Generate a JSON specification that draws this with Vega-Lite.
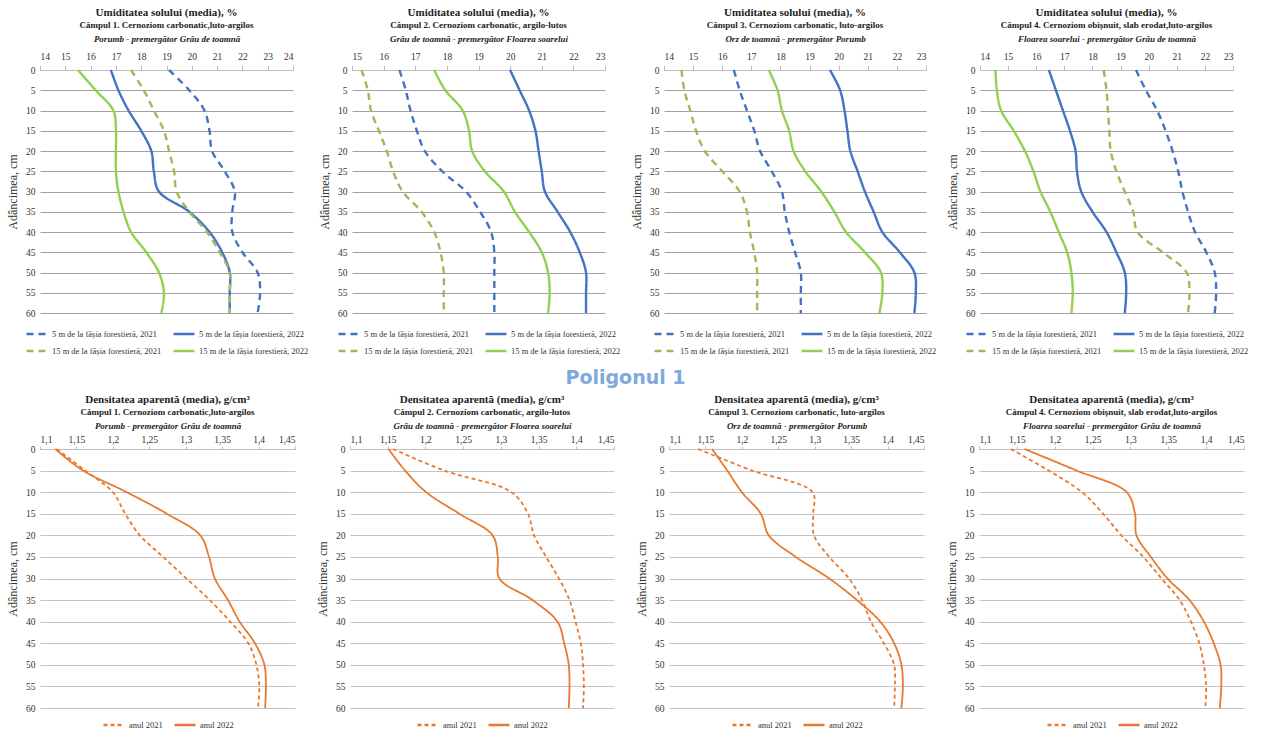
{
"$schema":"https://vega.github.io/schema/vega-lite/v6.json",
"padding":{"left":6,"right":2,"top":7,"bottom":0},
"datasets":{
"umiditate":[
{"camp":1,"serie":"5 m de la fâșia forestieră, 2021","adancime":0,"valoare":19.1},{"camp":1,"serie":"5 m de la fâșia forestieră, 2021","adancime":5,"valoare":19.9},{"camp":1,"serie":"5 m de la fâșia forestieră, 2021","adancime":10,"valoare":20.5},{"camp":1,"serie":"5 m de la fâșia forestieră, 2021","adancime":15,"valoare":20.7},{"camp":1,"serie":"5 m de la fâșia forestieră, 2021","adancime":20,"valoare":20.8},{"camp":1,"serie":"5 m de la fâșia forestieră, 2021","adancime":25,"valoare":21.3},{"camp":1,"serie":"5 m de la fâșia forestieră, 2021","adancime":30,"valoare":21.7},{"camp":1,"serie":"5 m de la fâșia forestieră, 2021","adancime":35,"valoare":21.6},{"camp":1,"serie":"5 m de la fâșia forestieră, 2021","adancime":40,"valoare":21.6},{"camp":1,"serie":"5 m de la fâșia forestieră, 2021","adancime":45,"valoare":22.0},{"camp":1,"serie":"5 m de la fâșia forestieră, 2021","adancime":50,"valoare":22.6},{"camp":1,"serie":"5 m de la fâșia forestieră, 2021","adancime":55,"valoare":22.7},{"camp":1,"serie":"5 m de la fâșia forestieră, 2021","adancime":60,"valoare":22.6},
{"camp":1,"serie":"5 m de la fâșia forestieră, 2022","adancime":0,"valoare":16.8},{"camp":1,"serie":"5 m de la fâșia forestieră, 2022","adancime":5,"valoare":17.1},{"camp":1,"serie":"5 m de la fâșia forestieră, 2022","adancime":10,"valoare":17.5},{"camp":1,"serie":"5 m de la fâșia forestieră, 2022","adancime":15,"valoare":18.0},{"camp":1,"serie":"5 m de la fâșia forestieră, 2022","adancime":20,"valoare":18.4},{"camp":1,"serie":"5 m de la fâșia forestieră, 2022","adancime":25,"valoare":18.5},{"camp":1,"serie":"5 m de la fâșia forestieră, 2022","adancime":30,"valoare":18.7},{"camp":1,"serie":"5 m de la fâșia forestieră, 2022","adancime":35,"valoare":19.9},{"camp":1,"serie":"5 m de la fâșia forestieră, 2022","adancime":40,"valoare":20.7},{"camp":1,"serie":"5 m de la fâșia forestieră, 2022","adancime":45,"valoare":21.2},{"camp":1,"serie":"5 m de la fâșia forestieră, 2022","adancime":50,"valoare":21.5},{"camp":1,"serie":"5 m de la fâșia forestieră, 2022","adancime":55,"valoare":21.5},{"camp":1,"serie":"5 m de la fâșia forestieră, 2022","adancime":60,"valoare":21.5},
{"camp":1,"serie":"15 m de la fâșia forestieră, 2021","adancime":0,"valoare":17.6},{"camp":1,"serie":"15 m de la fâșia forestieră, 2021","adancime":5,"valoare":18.1},{"camp":1,"serie":"15 m de la fâșia forestieră, 2021","adancime":10,"valoare":18.5},{"camp":1,"serie":"15 m de la fâșia forestieră, 2021","adancime":15,"valoare":18.9},{"camp":1,"serie":"15 m de la fâșia forestieră, 2021","adancime":20,"valoare":19.1},{"camp":1,"serie":"15 m de la fâșia forestieră, 2021","adancime":25,"valoare":19.3},{"camp":1,"serie":"15 m de la fâșia forestieră, 2021","adancime":30,"valoare":19.4},{"camp":1,"serie":"15 m de la fâșia forestieră, 2021","adancime":35,"valoare":19.9},{"camp":1,"serie":"15 m de la fâșia forestieră, 2021","adancime":40,"valoare":20.6},{"camp":1,"serie":"15 m de la fâșia forestieră, 2021","adancime":45,"valoare":21.1},{"camp":1,"serie":"15 m de la fâșia forestieră, 2021","adancime":50,"valoare":21.5},{"camp":1,"serie":"15 m de la fâșia forestieră, 2021","adancime":55,"valoare":21.5},{"camp":1,"serie":"15 m de la fâșia forestieră, 2021","adancime":60,"valoare":21.5},
{"camp":1,"serie":"15 m de la fâșia forestieră, 2022","adancime":0,"valoare":15.5},{"camp":1,"serie":"15 m de la fâșia forestieră, 2022","adancime":5,"valoare":16.2},{"camp":1,"serie":"15 m de la fâșia forestieră, 2022","adancime":10,"valoare":16.9},{"camp":1,"serie":"15 m de la fâșia forestieră, 2022","adancime":15,"valoare":17.0},{"camp":1,"serie":"15 m de la fâșia forestieră, 2022","adancime":20,"valoare":17.0},{"camp":1,"serie":"15 m de la fâșia forestieră, 2022","adancime":25,"valoare":17.0},{"camp":1,"serie":"15 m de la fâșia forestieră, 2022","adancime":30,"valoare":17.1},{"camp":1,"serie":"15 m de la fâșia forestieră, 2022","adancime":35,"valoare":17.3},{"camp":1,"serie":"15 m de la fâșia forestieră, 2022","adancime":40,"valoare":17.6},{"camp":1,"serie":"15 m de la fâșia forestieră, 2022","adancime":45,"valoare":18.2},{"camp":1,"serie":"15 m de la fâșia forestieră, 2022","adancime":50,"valoare":18.7},{"camp":1,"serie":"15 m de la fâșia forestieră, 2022","adancime":55,"valoare":18.9},{"camp":1,"serie":"15 m de la fâșia forestieră, 2022","adancime":60,"valoare":18.8},
{"camp":2,"serie":"5 m de la fâșia forestieră, 2021","adancime":0,"valoare":16.5},{"camp":2,"serie":"5 m de la fâșia forestieră, 2021","adancime":5,"valoare":16.7},{"camp":2,"serie":"5 m de la fâșia forestieră, 2021","adancime":10,"valoare":16.85},{"camp":2,"serie":"5 m de la fâșia forestieră, 2021","adancime":15,"valoare":17.05},{"camp":2,"serie":"5 m de la fâșia forestieră, 2021","adancime":20,"valoare":17.3},{"camp":2,"serie":"5 m de la fâșia forestieră, 2021","adancime":25,"valoare":17.85},{"camp":2,"serie":"5 m de la fâșia forestieră, 2021","adancime":30,"valoare":18.6},{"camp":2,"serie":"5 m de la fâșia forestieră, 2021","adancime":35,"valoare":19.05},{"camp":2,"serie":"5 m de la fâșia forestieră, 2021","adancime":40,"valoare":19.4},{"camp":2,"serie":"5 m de la fâșia forestieră, 2021","adancime":45,"valoare":19.5},{"camp":2,"serie":"5 m de la fâșia forestieră, 2021","adancime":50,"valoare":19.5},{"camp":2,"serie":"5 m de la fâșia forestieră, 2021","adancime":55,"valoare":19.5},{"camp":2,"serie":"5 m de la fâșia forestieră, 2021","adancime":60,"valoare":19.5},
{"camp":2,"serie":"5 m de la fâșia forestieră, 2022","adancime":0,"valoare":20.0},{"camp":2,"serie":"5 m de la fâșia forestieră, 2022","adancime":5,"valoare":20.3},{"camp":2,"serie":"5 m de la fâșia forestieră, 2022","adancime":10,"valoare":20.6},{"camp":2,"serie":"5 m de la fâșia forestieră, 2022","adancime":15,"valoare":20.8},{"camp":2,"serie":"5 m de la fâșia forestieră, 2022","adancime":20,"valoare":20.9},{"camp":2,"serie":"5 m de la fâșia forestieră, 2022","adancime":25,"valoare":21.0},{"camp":2,"serie":"5 m de la fâșia forestieră, 2022","adancime":30,"valoare":21.1},{"camp":2,"serie":"5 m de la fâșia forestieră, 2022","adancime":35,"valoare":21.5},{"camp":2,"serie":"5 m de la fâșia forestieră, 2022","adancime":40,"valoare":21.9},{"camp":2,"serie":"5 m de la fâșia forestieră, 2022","adancime":45,"valoare":22.2},{"camp":2,"serie":"5 m de la fâșia forestieră, 2022","adancime":50,"valoare":22.4},{"camp":2,"serie":"5 m de la fâșia forestieră, 2022","adancime":55,"valoare":22.4},{"camp":2,"serie":"5 m de la fâșia forestieră, 2022","adancime":60,"valoare":22.4},
{"camp":2,"serie":"15 m de la fâșia forestieră, 2021","adancime":0,"valoare":15.3},{"camp":2,"serie":"15 m de la fâșia forestieră, 2021","adancime":5,"valoare":15.5},{"camp":2,"serie":"15 m de la fâșia forestieră, 2021","adancime":10,"valoare":15.6},{"camp":2,"serie":"15 m de la fâșia forestieră, 2021","adancime":15,"valoare":15.85},{"camp":2,"serie":"15 m de la fâșia forestieră, 2021","adancime":20,"valoare":16.1},{"camp":2,"serie":"15 m de la fâșia forestieră, 2021","adancime":25,"valoare":16.3},{"camp":2,"serie":"15 m de la fâșia forestieră, 2021","adancime":30,"valoare":16.6},{"camp":2,"serie":"15 m de la fâșia forestieră, 2021","adancime":35,"valoare":17.2},{"camp":2,"serie":"15 m de la fâșia forestieră, 2021","adancime":40,"valoare":17.6},{"camp":2,"serie":"15 m de la fâșia forestieră, 2021","adancime":45,"valoare":17.8},{"camp":2,"serie":"15 m de la fâșia forestieră, 2021","adancime":50,"valoare":17.9},{"camp":2,"serie":"15 m de la fâșia forestieră, 2021","adancime":55,"valoare":17.9},{"camp":2,"serie":"15 m de la fâșia forestieră, 2021","adancime":60,"valoare":17.9},
{"camp":2,"serie":"15 m de la fâșia forestieră, 2022","adancime":0,"valoare":17.6},{"camp":2,"serie":"15 m de la fâșia forestieră, 2022","adancime":5,"valoare":17.95},{"camp":2,"serie":"15 m de la fâșia forestieră, 2022","adancime":10,"valoare":18.5},{"camp":2,"serie":"15 m de la fâșia forestieră, 2022","adancime":15,"valoare":18.7},{"camp":2,"serie":"15 m de la fâșia forestieră, 2022","adancime":20,"valoare":18.8},{"camp":2,"serie":"15 m de la fâșia forestieră, 2022","adancime":25,"valoare":19.2},{"camp":2,"serie":"15 m de la fâșia forestieră, 2022","adancime":30,"valoare":19.8},{"camp":2,"serie":"15 m de la fâșia forestieră, 2022","adancime":35,"valoare":20.15},{"camp":2,"serie":"15 m de la fâșia forestieră, 2022","adancime":40,"valoare":20.6},{"camp":2,"serie":"15 m de la fâșia forestieră, 2022","adancime":45,"valoare":21.0},{"camp":2,"serie":"15 m de la fâșia forestieră, 2022","adancime":50,"valoare":21.2},{"camp":2,"serie":"15 m de la fâșia forestieră, 2022","adancime":55,"valoare":21.25},{"camp":2,"serie":"15 m de la fâșia forestieră, 2022","adancime":60,"valoare":21.2},
{"camp":3,"serie":"5 m de la fâșia forestieră, 2021","adancime":0,"valoare":16.4},{"camp":3,"serie":"5 m de la fâșia forestieră, 2021","adancime":5,"valoare":16.6},{"camp":3,"serie":"5 m de la fâșia forestieră, 2021","adancime":10,"valoare":16.85},{"camp":3,"serie":"5 m de la fâșia forestieră, 2021","adancime":15,"valoare":17.1},{"camp":3,"serie":"5 m de la fâșia forestieră, 2021","adancime":20,"valoare":17.3},{"camp":3,"serie":"5 m de la fâșia forestieră, 2021","adancime":25,"valoare":17.7},{"camp":3,"serie":"5 m de la fâșia forestieră, 2021","adancime":30,"valoare":18.05},{"camp":3,"serie":"5 m de la fâșia forestieră, 2021","adancime":35,"valoare":18.15},{"camp":3,"serie":"5 m de la fâșia forestieră, 2021","adancime":40,"valoare":18.3},{"camp":3,"serie":"5 m de la fâșia forestieră, 2021","adancime":45,"valoare":18.5},{"camp":3,"serie":"5 m de la fâșia forestieră, 2021","adancime":50,"valoare":18.7},{"camp":3,"serie":"5 m de la fâșia forestieră, 2021","adancime":55,"valoare":18.7},{"camp":3,"serie":"5 m de la fâșia forestieră, 2021","adancime":60,"valoare":18.7},
{"camp":3,"serie":"5 m de la fâșia forestieră, 2022","adancime":0,"valoare":19.7},{"camp":3,"serie":"5 m de la fâșia forestieră, 2022","adancime":5,"valoare":20.05},{"camp":3,"serie":"5 m de la fâșia forestieră, 2022","adancime":10,"valoare":20.2},{"camp":3,"serie":"5 m de la fâșia forestieră, 2022","adancime":15,"valoare":20.3},{"camp":3,"serie":"5 m de la fâșia forestieră, 2022","adancime":20,"valoare":20.4},{"camp":3,"serie":"5 m de la fâșia forestieră, 2022","adancime":25,"valoare":20.65},{"camp":3,"serie":"5 m de la fâșia forestieră, 2022","adancime":30,"valoare":20.9},{"camp":3,"serie":"5 m de la fâșia forestieră, 2022","adancime":35,"valoare":21.2},{"camp":3,"serie":"5 m de la fâșia forestieră, 2022","adancime":40,"valoare":21.5},{"camp":3,"serie":"5 m de la fâșia forestieră, 2022","adancime":45,"valoare":22.1},{"camp":3,"serie":"5 m de la fâșia forestieră, 2022","adancime":50,"valoare":22.6},{"camp":3,"serie":"5 m de la fâșia forestieră, 2022","adancime":55,"valoare":22.65},{"camp":3,"serie":"5 m de la fâșia forestieră, 2022","adancime":60,"valoare":22.6},
{"camp":3,"serie":"15 m de la fâșia forestieră, 2021","adancime":0,"valoare":14.6},{"camp":3,"serie":"15 m de la fâșia forestieră, 2021","adancime":5,"valoare":14.7},{"camp":3,"serie":"15 m de la fâșia forestieră, 2021","adancime":10,"valoare":14.9},{"camp":3,"serie":"15 m de la fâșia forestieră, 2021","adancime":15,"valoare":15.1},{"camp":3,"serie":"15 m de la fâșia forestieră, 2021","adancime":20,"valoare":15.4},{"camp":3,"serie":"15 m de la fâșia forestieră, 2021","adancime":25,"valoare":16.0},{"camp":3,"serie":"15 m de la fâșia forestieră, 2021","adancime":30,"valoare":16.6},{"camp":3,"serie":"15 m de la fâșia forestieră, 2021","adancime":35,"valoare":16.85},{"camp":3,"serie":"15 m de la fâșia forestieră, 2021","adancime":40,"valoare":16.95},{"camp":3,"serie":"15 m de la fâșia forestieră, 2021","adancime":45,"valoare":17.1},{"camp":3,"serie":"15 m de la fâșia forestieră, 2021","adancime":50,"valoare":17.2},{"camp":3,"serie":"15 m de la fâșia forestieră, 2021","adancime":55,"valoare":17.2},{"camp":3,"serie":"15 m de la fâșia forestieră, 2021","adancime":60,"valoare":17.2},
{"camp":3,"serie":"15 m de la fâșia forestieră, 2022","adancime":0,"valoare":17.6},{"camp":3,"serie":"15 m de la fâșia forestieră, 2022","adancime":5,"valoare":17.9},{"camp":3,"serie":"15 m de la fâșia forestieră, 2022","adancime":10,"valoare":18.05},{"camp":3,"serie":"15 m de la fâșia forestieră, 2022","adancime":15,"valoare":18.3},{"camp":3,"serie":"15 m de la fâșia forestieră, 2022","adancime":20,"valoare":18.45},{"camp":3,"serie":"15 m de la fâșia forestieră, 2022","adancime":25,"valoare":18.85},{"camp":3,"serie":"15 m de la fâșia forestieră, 2022","adancime":30,"valoare":19.4},{"camp":3,"serie":"15 m de la fâșia forestieră, 2022","adancime":35,"valoare":19.85},{"camp":3,"serie":"15 m de la fâșia forestieră, 2022","adancime":40,"valoare":20.25},{"camp":3,"serie":"15 m de la fâșia forestieră, 2022","adancime":45,"valoare":20.9},{"camp":3,"serie":"15 m de la fâșia forestieră, 2022","adancime":50,"valoare":21.45},{"camp":3,"serie":"15 m de la fâșia forestieră, 2022","adancime":55,"valoare":21.5},{"camp":3,"serie":"15 m de la fâșia forestieră, 2022","adancime":60,"valoare":21.4},
{"camp":4,"serie":"5 m de la fâșia forestieră, 2021","adancime":0,"valoare":19.55},{"camp":4,"serie":"5 m de la fâșia forestieră, 2021","adancime":5,"valoare":19.9},{"camp":4,"serie":"5 m de la fâșia forestieră, 2021","adancime":10,"valoare":20.3},{"camp":4,"serie":"5 m de la fâșia forestieră, 2021","adancime":15,"valoare":20.6},{"camp":4,"serie":"5 m de la fâșia forestieră, 2021","adancime":20,"valoare":20.85},{"camp":4,"serie":"5 m de la fâșia forestieră, 2021","adancime":25,"valoare":21.05},{"camp":4,"serie":"5 m de la fâșia forestieră, 2021","adancime":30,"valoare":21.2},{"camp":4,"serie":"5 m de la fâșia forestieră, 2021","adancime":35,"valoare":21.4},{"camp":4,"serie":"5 m de la fâșia forestieră, 2021","adancime":40,"valoare":21.65},{"camp":4,"serie":"5 m de la fâșia forestieră, 2021","adancime":45,"valoare":22.05},{"camp":4,"serie":"5 m de la fâșia forestieră, 2021","adancime":50,"valoare":22.35},{"camp":4,"serie":"5 m de la fâșia forestieră, 2021","adancime":55,"valoare":22.4},{"camp":4,"serie":"5 m de la fâșia forestieră, 2021","adancime":60,"valoare":22.35},
{"camp":4,"serie":"5 m de la fâșia forestieră, 2022","adancime":0,"valoare":16.45},{"camp":4,"serie":"5 m de la fâșia forestieră, 2022","adancime":5,"valoare":16.7},{"camp":4,"serie":"5 m de la fâșia forestieră, 2022","adancime":10,"valoare":16.95},{"camp":4,"serie":"5 m de la fâșia forestieră, 2022","adancime":15,"valoare":17.2},{"camp":4,"serie":"5 m de la fâșia forestieră, 2022","adancime":20,"valoare":17.4},{"camp":4,"serie":"5 m de la fâșia forestieră, 2022","adancime":25,"valoare":17.45},{"camp":4,"serie":"5 m de la fâșia forestieră, 2022","adancime":30,"valoare":17.6},{"camp":4,"serie":"5 m de la fâșia forestieră, 2022","adancime":35,"valoare":18.0},{"camp":4,"serie":"5 m de la fâșia forestieră, 2022","adancime":40,"valoare":18.5},{"camp":4,"serie":"5 m de la fâșia forestieră, 2022","adancime":45,"valoare":18.85},{"camp":4,"serie":"5 m de la fâșia forestieră, 2022","adancime":50,"valoare":19.15},{"camp":4,"serie":"5 m de la fâșia forestieră, 2022","adancime":55,"valoare":19.2},{"camp":4,"serie":"5 m de la fâșia forestieră, 2022","adancime":60,"valoare":19.15},
{"camp":4,"serie":"15 m de la fâșia forestieră, 2021","adancime":0,"valoare":18.4},{"camp":4,"serie":"15 m de la fâșia forestieră, 2021","adancime":5,"valoare":18.5},{"camp":4,"serie":"15 m de la fâșia forestieră, 2021","adancime":10,"valoare":18.55},{"camp":4,"serie":"15 m de la fâșia forestieră, 2021","adancime":15,"valoare":18.6},{"camp":4,"serie":"15 m de la fâșia forestieră, 2021","adancime":20,"valoare":18.65},{"camp":4,"serie":"15 m de la fâșia forestieră, 2021","adancime":25,"valoare":18.85},{"camp":4,"serie":"15 m de la fâșia forestieră, 2021","adancime":30,"valoare":19.15},{"camp":4,"serie":"15 m de la fâșia forestieră, 2021","adancime":35,"valoare":19.45},{"camp":4,"serie":"15 m de la fâșia forestieră, 2021","adancime":40,"valoare":19.6},{"camp":4,"serie":"15 m de la fâșia forestieră, 2021","adancime":45,"valoare":20.5},{"camp":4,"serie":"15 m de la fâșia forestieră, 2021","adancime":50,"valoare":21.35},{"camp":4,"serie":"15 m de la fâșia forestieră, 2021","adancime":55,"valoare":21.45},{"camp":4,"serie":"15 m de la fâșia forestieră, 2021","adancime":60,"valoare":21.4},
{"camp":4,"serie":"15 m de la fâșia forestieră, 2022","adancime":0,"valoare":14.55},{"camp":4,"serie":"15 m de la fâșia forestieră, 2022","adancime":5,"valoare":14.6},{"camp":4,"serie":"15 m de la fâșia forestieră, 2022","adancime":10,"valoare":14.75},{"camp":4,"serie":"15 m de la fâșia forestieră, 2022","adancime":15,"valoare":15.2},{"camp":4,"serie":"15 m de la fâșia forestieră, 2022","adancime":20,"valoare":15.6},{"camp":4,"serie":"15 m de la fâșia forestieră, 2022","adancime":25,"valoare":15.9},{"camp":4,"serie":"15 m de la fâșia forestieră, 2022","adancime":30,"valoare":16.15},{"camp":4,"serie":"15 m de la fâșia forestieră, 2022","adancime":35,"valoare":16.5},{"camp":4,"serie":"15 m de la fâșia forestieră, 2022","adancime":40,"valoare":16.8},{"camp":4,"serie":"15 m de la fâșia forestieră, 2022","adancime":45,"valoare":17.1},{"camp":4,"serie":"15 m de la fâșia forestieră, 2022","adancime":50,"valoare":17.25},{"camp":4,"serie":"15 m de la fâșia forestieră, 2022","adancime":55,"valoare":17.3},{"camp":4,"serie":"15 m de la fâșia forestieră, 2022","adancime":60,"valoare":17.25}
],
"densitate":[
{"camp":1,"serie":"anul 2021","adancime":0,"valoare":1.123},{"camp":1,"serie":"anul 2021","adancime":5,"valoare":1.162},{"camp":1,"serie":"anul 2021","adancime":10,"valoare":1.2},{"camp":1,"serie":"anul 2021","adancime":15,"valoare":1.217},{"camp":1,"serie":"anul 2021","adancime":20,"valoare":1.237},{"camp":1,"serie":"anul 2021","adancime":25,"valoare":1.269},{"camp":1,"serie":"anul 2021","adancime":30,"valoare":1.301},{"camp":1,"serie":"anul 2021","adancime":35,"valoare":1.333},{"camp":1,"serie":"anul 2021","adancime":40,"valoare":1.361},{"camp":1,"serie":"anul 2021","adancime":45,"valoare":1.386},{"camp":1,"serie":"anul 2021","adancime":50,"valoare":1.397},{"camp":1,"serie":"anul 2021","adancime":55,"valoare":1.401},{"camp":1,"serie":"anul 2021","adancime":60,"valoare":1.399},
{"camp":1,"serie":"anul 2022","adancime":0,"valoare":1.121},{"camp":1,"serie":"anul 2022","adancime":5,"valoare":1.159},{"camp":1,"serie":"anul 2022","adancime":10,"valoare":1.219},{"camp":1,"serie":"anul 2022","adancime":15,"valoare":1.274},{"camp":1,"serie":"anul 2022","adancime":20,"valoare":1.32},{"camp":1,"serie":"anul 2022","adancime":25,"valoare":1.332},{"camp":1,"serie":"anul 2022","adancime":30,"valoare":1.34},{"camp":1,"serie":"anul 2022","adancime":35,"valoare":1.358},{"camp":1,"serie":"anul 2022","adancime":40,"valoare":1.374},{"camp":1,"serie":"anul 2022","adancime":45,"valoare":1.395},{"camp":1,"serie":"anul 2022","adancime":50,"valoare":1.408},{"camp":1,"serie":"anul 2022","adancime":55,"valoare":1.41},{"camp":1,"serie":"anul 2022","adancime":60,"valoare":1.409},
{"camp":2,"serie":"anul 2021","adancime":0,"valoare":1.157},{"camp":2,"serie":"anul 2021","adancime":5,"valoare":1.225},{"camp":2,"serie":"anul 2021","adancime":10,"valoare":1.314},{"camp":2,"serie":"anul 2021","adancime":15,"valoare":1.336},{"camp":2,"serie":"anul 2021","adancime":20,"valoare":1.344},{"camp":2,"serie":"anul 2021","adancime":25,"valoare":1.36},{"camp":2,"serie":"anul 2021","adancime":30,"valoare":1.377},{"camp":2,"serie":"anul 2021","adancime":35,"valoare":1.391},{"camp":2,"serie":"anul 2021","adancime":40,"valoare":1.399},{"camp":2,"serie":"anul 2021","adancime":45,"valoare":1.406},{"camp":2,"serie":"anul 2021","adancime":50,"valoare":1.409},{"camp":2,"serie":"anul 2021","adancime":55,"valoare":1.41},{"camp":2,"serie":"anul 2021","adancime":60,"valoare":1.409},
{"camp":2,"serie":"anul 2022","adancime":0,"valoare":1.151},{"camp":2,"serie":"anul 2022","adancime":5,"valoare":1.173},{"camp":2,"serie":"anul 2022","adancime":10,"valoare":1.201},{"camp":2,"serie":"anul 2022","adancime":15,"valoare":1.245},{"camp":2,"serie":"anul 2022","adancime":20,"valoare":1.289},{"camp":2,"serie":"anul 2022","adancime":25,"valoare":1.296},{"camp":2,"serie":"anul 2022","adancime":30,"valoare":1.298},{"camp":2,"serie":"anul 2022","adancime":35,"valoare":1.342},{"camp":2,"serie":"anul 2022","adancime":40,"valoare":1.375},{"camp":2,"serie":"anul 2022","adancime":45,"valoare":1.384},{"camp":2,"serie":"anul 2022","adancime":50,"valoare":1.39},{"camp":2,"serie":"anul 2022","adancime":55,"valoare":1.391},{"camp":2,"serie":"anul 2022","adancime":60,"valoare":1.39},
{"camp":3,"serie":"anul 2021","adancime":0,"valoare":1.14},{"camp":3,"serie":"anul 2021","adancime":5,"valoare":1.214},{"camp":3,"serie":"anul 2021","adancime":10,"valoare":1.297},{"camp":3,"serie":"anul 2021","adancime":15,"valoare":1.298},{"camp":3,"serie":"anul 2021","adancime":20,"valoare":1.299},{"camp":3,"serie":"anul 2021","adancime":25,"valoare":1.32},{"camp":3,"serie":"anul 2021","adancime":30,"valoare":1.347},{"camp":3,"serie":"anul 2021","adancime":35,"valoare":1.365},{"camp":3,"serie":"anul 2021","adancime":40,"valoare":1.377},{"camp":3,"serie":"anul 2021","adancime":45,"valoare":1.395},{"camp":3,"serie":"anul 2021","adancime":50,"valoare":1.409},{"camp":3,"serie":"anul 2021","adancime":55,"valoare":1.41},{"camp":3,"serie":"anul 2021","adancime":60,"valoare":1.409},
{"camp":3,"serie":"anul 2022","adancime":0,"valoare":1.159},{"camp":3,"serie":"anul 2022","adancime":5,"valoare":1.18},{"camp":3,"serie":"anul 2022","adancime":10,"valoare":1.2},{"camp":3,"serie":"anul 2022","adancime":15,"valoare":1.226},{"camp":3,"serie":"anul 2022","adancime":20,"valoare":1.237},{"camp":3,"serie":"anul 2022","adancime":25,"valoare":1.274},{"camp":3,"serie":"anul 2022","adancime":30,"valoare":1.32},{"camp":3,"serie":"anul 2022","adancime":35,"valoare":1.358},{"camp":3,"serie":"anul 2022","adancime":40,"valoare":1.39},{"camp":3,"serie":"anul 2022","adancime":45,"valoare":1.409},{"camp":3,"serie":"anul 2022","adancime":50,"valoare":1.419},{"camp":3,"serie":"anul 2022","adancime":55,"valoare":1.421},{"camp":3,"serie":"anul 2022","adancime":60,"valoare":1.419},
{"camp":4,"serie":"anul 2021","adancime":0,"valoare":1.142},{"camp":4,"serie":"anul 2021","adancime":5,"valoare":1.192},{"camp":4,"serie":"anul 2021","adancime":10,"valoare":1.236},{"camp":4,"serie":"anul 2021","adancime":15,"valoare":1.264},{"camp":4,"serie":"anul 2021","adancime":20,"valoare":1.288},{"camp":4,"serie":"anul 2021","adancime":25,"valoare":1.317},{"camp":4,"serie":"anul 2021","adancime":30,"valoare":1.341},{"camp":4,"serie":"anul 2021","adancime":35,"valoare":1.365},{"camp":4,"serie":"anul 2021","adancime":40,"valoare":1.38},{"camp":4,"serie":"anul 2021","adancime":45,"valoare":1.391},{"camp":4,"serie":"anul 2021","adancime":50,"valoare":1.397},{"camp":4,"serie":"anul 2021","adancime":55,"valoare":1.4},{"camp":4,"serie":"anul 2021","adancime":60,"valoare":1.399},
{"camp":4,"serie":"anul 2022","adancime":0,"valoare":1.16},{"camp":4,"serie":"anul 2022","adancime":5,"valoare":1.229},{"camp":4,"serie":"anul 2022","adancime":10,"valoare":1.295},{"camp":4,"serie":"anul 2022","adancime":15,"valoare":1.306},{"camp":4,"serie":"anul 2022","adancime":20,"valoare":1.308},{"camp":4,"serie":"anul 2022","adancime":25,"valoare":1.327},{"camp":4,"serie":"anul 2022","adancime":30,"valoare":1.349},{"camp":4,"serie":"anul 2022","adancime":35,"valoare":1.378},{"camp":4,"serie":"anul 2022","adancime":40,"valoare":1.397},{"camp":4,"serie":"anul 2022","adancime":45,"valoare":1.41},{"camp":4,"serie":"anul 2022","adancime":50,"valoare":1.419},{"camp":4,"serie":"anul 2022","adancime":55,"valoare":1.42},{"camp":4,"serie":"anul 2022","adancime":60,"valoare":1.418}
]
},
"vconcat":[
{"hconcat":[
{"width":253,"height":243,"title":{"text":"Umiditatea solului (media), %","subtitle":"Câmpul 1. Cernoziom carbonatic,luto-argilos"},
"data":{"name":"umiditate"},"transform":[{"filter":"datum.camp == 1"}],
"mark":{"type":"line","interpolate":"catmull-rom","strokeWidth":2.4},
"encoding":{
"x":{"field":"valoare","type":"quantitative","scale":{"domain":[14,24],"nice":false,"zero":false},"axis":{"orient":"top","values":[14,15,16,17,18,19,20,21,22,23,24],"title":"Porumb - premergător Grâu de toamnă","grid":false}},
"y":{"field":"adancime","type":"quantitative","scale":{"domain":[0,60],"reverse":true,"nice":false},"axis":{"values":[0,5,10,15,20,25,30,35,40,45,50,55,60],"title":"Adâncimea, cm"}},
"color":{"field":"serie","type":"nominal","scale":{"domain":["5 m de la fâșia forestieră, 2021","5 m de la fâșia forestieră, 2022","15 m de la fâșia forestieră, 2021","15 m de la fâșia forestieră, 2022"],"range":["#4472c4","#4472c4","#9bbb59","#92d050"]},"legend":{"columns":2}},
"strokeDash":{"field":"serie","type":"nominal","scale":{"domain":["5 m de la fâșia forestieră, 2021","5 m de la fâșia forestieră, 2022","15 m de la fâșia forestieră, 2021","15 m de la fâșia forestieră, 2022"],"range":[[7,5],[1,0],[7,5],[1,0]]},"legend":{"columns":2}},
"order":{"field":"adancime","type":"quantitative"}}},
{"width":253,"height":243,"title":{"text":"Umiditatea solului (media), %","subtitle":"Câmpul 2. Cernoziom carbonatic, argilo-lutos"},
"data":{"name":"umiditate"},"transform":[{"filter":"datum.camp == 2"}],
"mark":{"type":"line","interpolate":"catmull-rom","strokeWidth":2.4},
"encoding":{
"x":{"field":"valoare","type":"quantitative","scale":{"domain":[15,23],"nice":false,"zero":false},"axis":{"orient":"top","values":[15,16,17,18,19,20,21,22,23],"title":"Grâu de toamnă - premergător Floarea soarelui","grid":false}},
"y":{"field":"adancime","type":"quantitative","scale":{"domain":[0,60],"reverse":true,"nice":false},"axis":{"values":[0,5,10,15,20,25,30,35,40,45,50,55,60],"title":"Adâncimea, cm"}},
"color":{"field":"serie","type":"nominal","scale":{"domain":["5 m de la fâșia forestieră, 2021","5 m de la fâșia forestieră, 2022","15 m de la fâșia forestieră, 2021","15 m de la fâșia forestieră, 2022"],"range":["#4472c4","#4472c4","#9bbb59","#92d050"]},"legend":{"columns":2}},
"strokeDash":{"field":"serie","type":"nominal","scale":{"domain":["5 m de la fâșia forestieră, 2021","5 m de la fâșia forestieră, 2022","15 m de la fâșia forestieră, 2021","15 m de la fâșia forestieră, 2022"],"range":[[7,5],[1,0],[7,5],[1,0]]},"legend":{"columns":2}},
"order":{"field":"adancime","type":"quantitative"}}},
{"width":262,"height":243,"title":{"text":"Umiditatea solului (media), %","subtitle":"Câmpul 3. Cernoziom carbonatic, luto-argilos"},
"data":{"name":"umiditate"},"transform":[{"filter":"datum.camp == 3"}],
"mark":{"type":"line","interpolate":"catmull-rom","strokeWidth":2.4},
"encoding":{
"x":{"field":"valoare","type":"quantitative","scale":{"domain":[14,23],"nice":false,"zero":false},"axis":{"orient":"top","values":[14,15,16,17,18,19,20,21,22,23],"title":"Orz de toamnă - premergător Porumb","grid":false}},
"y":{"field":"adancime","type":"quantitative","scale":{"domain":[0,60],"reverse":true,"nice":false},"axis":{"values":[0,5,10,15,20,25,30,35,40,45,50,55,60],"title":"Adâncimea, cm"}},
"color":{"field":"serie","type":"nominal","scale":{"domain":["5 m de la fâșia forestieră, 2021","5 m de la fâșia forestieră, 2022","15 m de la fâșia forestieră, 2021","15 m de la fâșia forestieră, 2022"],"range":["#4472c4","#4472c4","#9bbb59","#92d050"]},"legend":{"columns":2}},
"strokeDash":{"field":"serie","type":"nominal","scale":{"domain":["5 m de la fâșia forestieră, 2021","5 m de la fâșia forestieră, 2022","15 m de la fâșia forestieră, 2021","15 m de la fâșia forestieră, 2022"],"range":[[7,5],[1,0],[7,5],[1,0]]},"legend":{"columns":2}},
"order":{"field":"adancime","type":"quantitative"}}},
{"width":253,"height":243,"title":{"text":"Umiditatea solului (media), %","subtitle":"Câmpul 4. Cernoziom obișnuit, slab erodat,luto-argilos"},
"data":{"name":"umiditate"},"transform":[{"filter":"datum.camp == 4"}],
"mark":{"type":"line","interpolate":"catmull-rom","strokeWidth":2.4},
"encoding":{
"x":{"field":"valoare","type":"quantitative","scale":{"domain":[14,23],"nice":false,"zero":false},"axis":{"orient":"top","values":[14,15,16,17,18,19,20,21,22,23],"title":"Floarea soarelui - premergător Grâu de toamnă","grid":false}},
"y":{"field":"adancime","type":"quantitative","scale":{"domain":[0,60],"reverse":true,"nice":false},"axis":{"values":[0,5,10,15,20,25,30,35,40,45,50,55,60],"title":"Adâncimea, cm"}},
"color":{"field":"serie","type":"nominal","scale":{"domain":["5 m de la fâșia forestieră, 2021","5 m de la fâșia forestieră, 2022","15 m de la fâșia forestieră, 2021","15 m de la fâșia forestieră, 2022"],"range":["#4472c4","#4472c4","#9bbb59","#92d050"]},"legend":{"columns":2}},
"strokeDash":{"field":"serie","type":"nominal","scale":{"domain":["5 m de la fâșia forestieră, 2021","5 m de la fâșia forestieră, 2022","15 m de la fâșia forestieră, 2021","15 m de la fâșia forestieră, 2022"],"range":[[7,5],[1,0],[7,5],[1,0]]},"legend":{"columns":2}},
"order":{"field":"adancime","type":"quantitative"}}}
],"spacing":9,
"resolve":{"scale":{"color":"independent","strokeDash":"independent"},"legend":{"color":"independent","strokeDash":"independent"}}},
{"title":{"text":"Poligonul 1","font":"DejaVu Sans","fontSize":19,"fontWeight":"bold","color":"#7fa9dc","offset":6,"anchor":"middle","frame":"bounds"},
"hconcat":[
{"width":255,"height":259,"title":{"text":"Densitatea aparentă (media), g/cm³","subtitle":"Câmpul 1. Cernoziom carbonatic,luto-argilos"},
"data":{"name":"densitate"},"transform":[{"filter":"datum.camp == 1"}],
"mark":{"type":"line","interpolate":"catmull-rom","strokeWidth":1.8},
"encoding":{
"x":{"field":"valoare","type":"quantitative","scale":{"domain":[1.1,1.45],"nice":false,"zero":false},"axis":{"orient":"top","values":[1.1,1.15,1.2,1.25,1.3,1.35,1.4,1.45],"labelExpr":"replace(format(datum.value, '.2~f'), '.', ',')","title":"Porumb - premergător Grâu de toamnă","grid":false,"titlePadding":4,"labelPadding":2,"tickSize":3}},
"y":{"field":"adancime","type":"quantitative","scale":{"domain":[0,60],"reverse":true,"nice":false},"axis":{"values":[0,5,10,15,20,25,30,35,40,45,50,55,60],"title":"Adâncimea, cm","gridColor":"#c4c4c4"}},
"color":{"field":"serie","type":"nominal","scale":{"domain":["anul 2021","anul 2022"],"range":["#e8792f","#e8792f"]},"legend":{"offset":1}},
"strokeDash":{"field":"serie","type":"nominal","scale":{"domain":["anul 2021","anul 2022"],"range":[[4,3],[1,0]]},"legend":{"offset":1}},
"order":{"field":"adancime","type":"quantitative"}}},
{"width":264,"height":259,"title":{"text":"Densitatea aparentă (media), g/cm³","subtitle":"Câmpul 2. Cernoziom carbonatic, argilo-lutos"},
"data":{"name":"densitate"},"transform":[{"filter":"datum.camp == 2"}],
"mark":{"type":"line","interpolate":"catmull-rom","strokeWidth":1.8},
"encoding":{
"x":{"field":"valoare","type":"quantitative","scale":{"domain":[1.1,1.45],"nice":false,"zero":false},"axis":{"orient":"top","values":[1.1,1.15,1.2,1.25,1.3,1.35,1.4,1.45],"labelExpr":"replace(format(datum.value, '.2~f'), '.', ',')","title":"Grâu de toamnă - premergător Floarea soarelui","grid":false,"titlePadding":4,"labelPadding":2,"tickSize":3}},
"y":{"field":"adancime","type":"quantitative","scale":{"domain":[0,60],"reverse":true,"nice":false},"axis":{"values":[0,5,10,15,20,25,30,35,40,45,50,55,60],"title":"Adâncimea, cm","gridColor":"#c4c4c4"}},
"color":{"field":"serie","type":"nominal","scale":{"domain":["anul 2021","anul 2022"],"range":["#e8792f","#e8792f"]},"legend":{"offset":1}},
"strokeDash":{"field":"serie","type":"nominal","scale":{"domain":["anul 2021","anul 2022"],"range":[[4,3],[1,0]]},"legend":{"offset":1}},
"order":{"field":"adancime","type":"quantitative"}}},
{"width":255,"height":259,"title":{"text":"Densitatea aparentă (media), g/cm³","subtitle":"Câmpul 3. Cernoziom carbonatic, luto-argilos"},
"data":{"name":"densitate"},"transform":[{"filter":"datum.camp == 3"}],
"mark":{"type":"line","interpolate":"catmull-rom","strokeWidth":1.8},
"encoding":{
"x":{"field":"valoare","type":"quantitative","scale":{"domain":[1.1,1.45],"nice":false,"zero":false},"axis":{"orient":"top","values":[1.1,1.15,1.2,1.25,1.3,1.35,1.4,1.45],"labelExpr":"replace(format(datum.value, '.2~f'), '.', ',')","title":"Orz de toamnă - premergător Porumb","grid":false,"titlePadding":4,"labelPadding":2,"tickSize":3}},
"y":{"field":"adancime","type":"quantitative","scale":{"domain":[0,60],"reverse":true,"nice":false},"axis":{"values":[0,5,10,15,20,25,30,35,40,45,50,55,60],"title":"Adâncimea, cm","gridColor":"#c4c4c4"}},
"color":{"field":"serie","type":"nominal","scale":{"domain":["anul 2021","anul 2022"],"range":["#e8792f","#e8792f"]},"legend":{"offset":1}},
"strokeDash":{"field":"serie","type":"nominal","scale":{"domain":["anul 2021","anul 2022"],"range":[[4,3],[1,0]]},"legend":{"offset":1}},
"order":{"field":"adancime","type":"quantitative"}}},
{"width":265,"height":259,"title":{"text":"Densitatea aparentă (media), g/cm³","subtitle":"Câmpul 4. Cernoziom obișnuit, slab erodat,luto-argilos"},
"data":{"name":"densitate"},"transform":[{"filter":"datum.camp == 4"}],
"mark":{"type":"line","interpolate":"catmull-rom","strokeWidth":1.8},
"encoding":{
"x":{"field":"valoare","type":"quantitative","scale":{"domain":[1.1,1.45],"nice":false,"zero":false},"axis":{"orient":"top","values":[1.1,1.15,1.2,1.25,1.3,1.35,1.4,1.45],"labelExpr":"replace(format(datum.value, '.2~f'), '.', ',')","title":"Floarea soarelui - premergător Grâu de toamnă","grid":false,"titlePadding":4,"labelPadding":2,"tickSize":3}},
"y":{"field":"adancime","type":"quantitative","scale":{"domain":[0,60],"reverse":true,"nice":false},"axis":{"values":[0,5,10,15,20,25,30,35,40,45,50,55,60],"title":"Adâncimea, cm","gridColor":"#c4c4c4"}},
"color":{"field":"serie","type":"nominal","scale":{"domain":["anul 2021","anul 2022"],"range":["#e8792f","#e8792f"]},"legend":{"offset":1}},
"strokeDash":{"field":"serie","type":"nominal","scale":{"domain":["anul 2021","anul 2022"],"range":[[4,3],[1,0]]},"legend":{"offset":1}},
"order":{"field":"adancime","type":"quantitative"}}}
],"spacing":20,
"resolve":{"scale":{"color":"independent","strokeDash":"independent"},"legend":{"color":"independent","strokeDash":"independent"}}}
],
"spacing":13,
"resolve":{"scale":{"color":"independent","strokeDash":"independent"},"legend":{"color":"independent","strokeDash":"independent"}},
"config":{
"font":"Liberation Serif",
"view":{"stroke":null},
"style":{"guide-label":{"font":"Liberation Serif"},"guide-title":{"font":"Liberation Serif"}},
"axis":{"labelFont":"Liberation Serif","titleFont":"Liberation Serif","labelFontSize":9.5,"labelColor":"#333333","titleColor":"#222222"},
"axisX":{"domainColor":"#bfbfbf","tickColor":"#bfbfbf","tickSize":5,"labelPadding":4,"titleFontSize":9,"titleFontStyle":"italic","titleFontWeight":"bold","titlePadding":8},
"axisY":{"domain":false,"ticks":false,"gridColor":"#a0a0a0","labelPadding":5,"titlePadding":6,"titleFontSize":12,"titleFontWeight":"normal","titleColor":"#333333"},
"title":{"font":"Liberation Serif","fontSize":11,"fontWeight":"bold","subtitleFont":"Liberation Serif","subtitleFontSize":9,"subtitleFontStyle":"normal","subtitleFontWeight":"bold","offset":4,"subtitlePadding":3,"anchor":"middle","frame":"group","color":"#222222","subtitleColor":"#222222"},
"legend":{"orient":"bottom","title":null,"labelFont":"Liberation Serif","labelFontSize":8.5,"labelColor":"#333333","symbolType":"M-1,0H1","symbolSize":441,"symbolStrokeWidth":2.5,"labelOffset":3,"columnPadding":6,"rowPadding":0,"offset":4,"layout":{"bottom":{"anchor":"middle"}}}
}
}
